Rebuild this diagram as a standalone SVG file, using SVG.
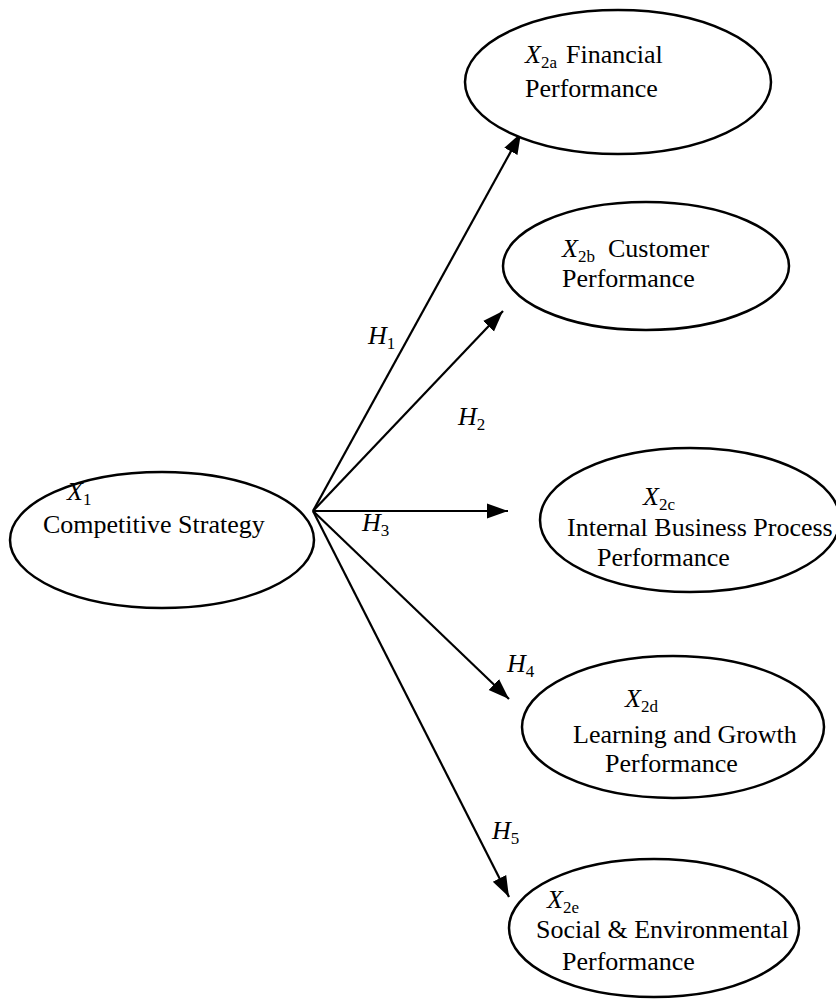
<svg xmlns="http://www.w3.org/2000/svg" width="836" height="1000" viewBox="0 0 836 1000">
<style>
text{font-family:"Liberation Serif","Times New Roman",serif;font-size:26px;fill:#000}
.i{font-style:italic}
.s{font-size:17px}
ellipse{fill:#fff;stroke:#000;stroke-width:2.5}
.c line{stroke:#000;stroke-width:2.2;marker-end:url(#ah)}
</style>
<defs>
<marker id="ah" markerUnits="userSpaceOnUse" markerWidth="22" markerHeight="18" viewBox="0 0 22 18" refX="21" refY="9" orient="auto">
<path d="M0,1.5 L21,9 L0,16.5 Z" fill="#000"/>
</marker>
</defs>
<g class="c" id="connectors">
<line x1="313" y1="511" x2="521" y2="133"/>
<line x1="313" y1="511" x2="503" y2="311"/>
<line x1="313" y1="511" x2="508" y2="511"/>
<line x1="313" y1="511" x2="509" y2="699"/>
<line x1="313" y1="511" x2="509" y2="897"/>
</g>
<g id="labels">
<text x="368" y="344"><tspan class="i">H</tspan><tspan class="s" dy="5">1</tspan></text>
<text x="458" y="425"><tspan class="i">H</tspan><tspan class="s" dy="5">2</tspan></text>
<text x="362" y="531"><tspan class="i">H</tspan><tspan class="s" dy="5">3</tspan></text>
<text x="507" y="672"><tspan class="i">H</tspan><tspan class="s" dy="5">4</tspan></text>
<text x="492" y="839"><tspan class="i">H</tspan><tspan class="s" dy="5">5</tspan></text>
</g>
<g id="x1">
<ellipse cx="162" cy="540" rx="152" ry="68"/>
<text x="67" y="500"><tspan class="i">X</tspan><tspan class="s" dy="5">1</tspan></text>
<text x="43" y="533">Competitive Strategy</text>
</g>
<g id="x2a">
<ellipse cx="618" cy="82" rx="153" ry="72"/>
<text x="525" y="63"><tspan class="i">X</tspan><tspan class="s" dy="5">2a</tspan><tspan x="566" dy="-5">Financial</tspan></text>
<text x="525" y="97">Performance</text>
</g>
<g id="x2b">
<ellipse cx="646" cy="266" rx="143" ry="64"/>
<text x="562" y="257"><tspan class="i">X</tspan><tspan class="s" dy="5">2b</tspan><tspan x="608" dy="-5">Customer</tspan></text>
<text x="562" y="287">Performance</text>
</g>
<g id="x2c">
<ellipse cx="690" cy="520" rx="150" ry="72"/>
<text x="643" y="505"><tspan class="i">X</tspan><tspan class="s" dy="5">2c</tspan></text>
<text x="567" y="536">Internal Business Process</text>
<text x="597" y="566">Performance</text>
</g>
<g id="x2d">
<ellipse cx="673" cy="727" rx="151" ry="71"/>
<text x="625" y="707"><tspan class="i">X</tspan><tspan class="s" dy="5">2d</tspan></text>
<text x="573" y="743">Learning and Growth</text>
<text x="605" y="772">Performance</text>
</g>
<g id="x2e">
<ellipse cx="654" cy="928" rx="145" ry="69"/>
<text x="547" y="908"><tspan class="i">X</tspan><tspan class="s" dy="5">2e</tspan></text>
<text x="536" y="938">Social &amp; Environmental</text>
<text x="562" y="970">Performance</text>
</g>
</svg>
